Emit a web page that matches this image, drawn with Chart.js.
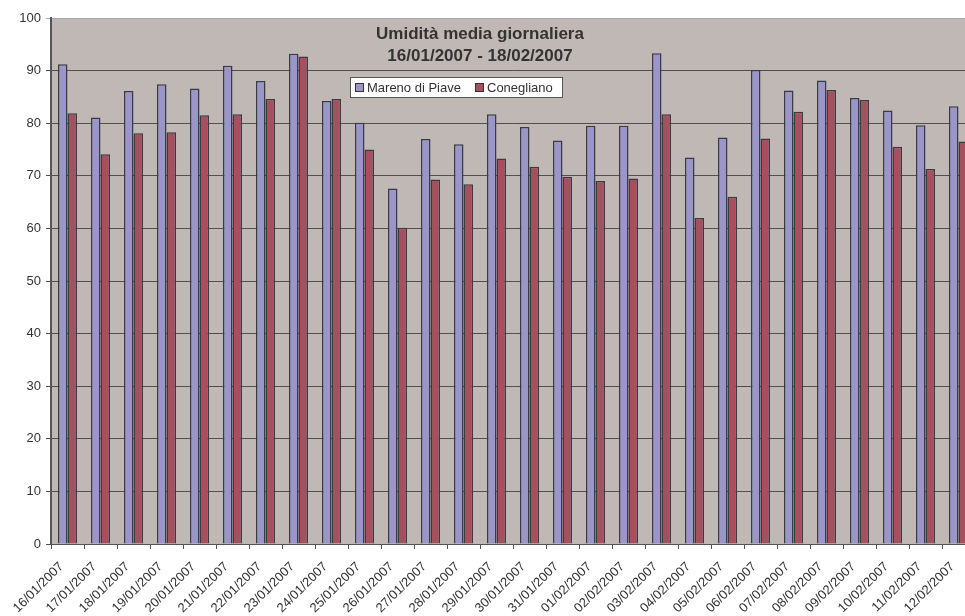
<!DOCTYPE html>
<html><head><meta charset="utf-8">
<script src="https://cdn.jsdelivr.net/npm/chart.js@4/dist/chart.umd.min.js"></script>
<style>
html,body{margin:0;padding:0;background:#fff;overflow:hidden;width:965px;height:616px}
#wrap{position:absolute;left:0;top:0;width:990px;height:616px}
</style>
</head><body><div id="wrap"><canvas id="c" width="990" height="616"></canvas></div>
<script>
const categories = ['16/01/2007','17/01/2007','18/01/2007','19/01/2007','20/01/2007','21/01/2007','22/01/2007','23/01/2007','24/01/2007','25/01/2007','26/01/2007','27/01/2007','28/01/2007','29/01/2007','30/01/2007','31/01/2007','01/02/2007','02/02/2007','03/02/2007','04/02/2007','05/02/2007','06/02/2007','07/02/2007','08/02/2007','09/02/2007','10/02/2007','11/02/2007','12/02/2007'];
const mareno = [91.2,81.1,86.1,87.4,86.6,90.9,88.0,93.2,84.2,80.1,67.6,77.0,76.0,81.7,79.3,76.7,79.5,79.5,93.3,73.5,77.3,90.1,86.2,88.1,84.8,82.4,79.6,83.2];
const conegliano = [81.9,74.1,78.1,78.3,81.5,81.7,84.6,92.7,84.6,75.0,60.1,69.3,68.4,73.3,71.7,69.8,69.0,69.5,81.7,62.0,66.0,77.1,82.2,86.3,84.4,75.5,71.3,76.5];
const seriesNames = ['Mareno di Piave','Conegliano'];
const titleLines = ['Umidità media giornaliera','16/01/2007 - 18/02/2007'];

const FONT = "'Liberation Sans', Arial, sans-serif";
const TXT = '#333333';

const bgPlugin = {
  id: 'bg',
  beforeDraw(chart) {
    const {ctx, chartArea: a} = chart;
    ctx.save();
    ctx.fillStyle = '#C0B8B5';
    ctx.fillRect(a.left, a.top, a.right - a.left, a.bottom - a.top);
    ctx.restore();
  }
};

const overlayPlugin = {
  id: 'overlay',
  afterDraw(chart) {
    const ctx = chart.ctx;
    ctx.save();
    ctx.fillStyle = TXT;
    ctx.font = 'bold 17px ' + FONT;
    ctx.textAlign = 'center';
    ctx.textBaseline = 'alphabetic';
    ctx.fillText(titleLines[0], 480, 39);
    ctx.fillText(titleLines[1], 480, 61);
    const lx = 350, ly = 77, lw = 213, lh = 21;
    ctx.fillStyle = '#ffffff';
    ctx.fillRect(lx, ly, lw, lh);
    ctx.strokeStyle = '#555555';
    ctx.lineWidth = 1;
    ctx.strokeRect(lx + 0.5, ly + 0.5, lw - 1, lh - 1);
    ctx.font = '13px ' + FONT;
    ctx.textAlign = 'left';
    ctx.textBaseline = 'middle';
    const items = [{x: 355, tx: 367}, {x: 475, tx: 487}];
    chart.data.datasets.forEach((ds, i) => {
      const it = items[i];
      ctx.fillStyle = ds.backgroundColor;
      ctx.fillRect(it.x, 83, 9, 9);
      ctx.strokeStyle = '#333333';
      ctx.strokeRect(it.x + 0.5, 83.5, 8, 8);
      ctx.fillStyle = TXT;
      ctx.fillText(ds.label, it.tx, 88);
    });
    ctx.restore();
  }
};

new Chart(document.getElementById('c'), {
  type: 'bar',
  data: {
    labels: categories,
    datasets: [
      {label: seriesNames[0], data: mareno, backgroundColor: '#9B96CA', borderColor: '#3a3a42', borderWidth: 1.5},
      {label: seriesNames[1], data: conegliano, backgroundColor: '#A54F5F', borderColor: '#3a3a42', borderWidth: 1.5}
    ]
  },
  options: {
    responsive: false,
    animation: false,
    layout: {padding: {top: 18, right: 15, left: 0, bottom: 0}},
    datasets: {bar: {categoryPercentage: 0.576, barPercentage: 1}},
    plugins: {legend: {display: false}, title: {display: false}, tooltip: {enabled: false}},
    scales: {
      x: {
        afterFit(s) { s.height = 72; },
        grid: {offset: true, drawOnChartArea: false, color: '#555555', tickLength: 5, lineWidth: 1},
        border: {display: true, color: '#555555', width: 1},
        ticks: {minRotation: 45, maxRotation: 45, autoSkip: false, color: TXT, padding: 10, labelOffset: -6, font: {family: FONT, size: 13}}
      },
      y: {
        min: 0, max: 100,
        afterFit(s) { s.width = 51; },
        grid: {color: (c) => c.tick && c.tick.value === 100 ? '#a8a8a8' : '#4f4f4f', tickLength: 5, lineWidth: 1},
        border: {display: true, color: '#555555', width: 2},
        ticks: {stepSize: 10, color: TXT, padding: 5, font: {family: FONT, size: 13}}
      }
    }
  },
  plugins: [bgPlugin, overlayPlugin]
});
</script>
</body></html>
